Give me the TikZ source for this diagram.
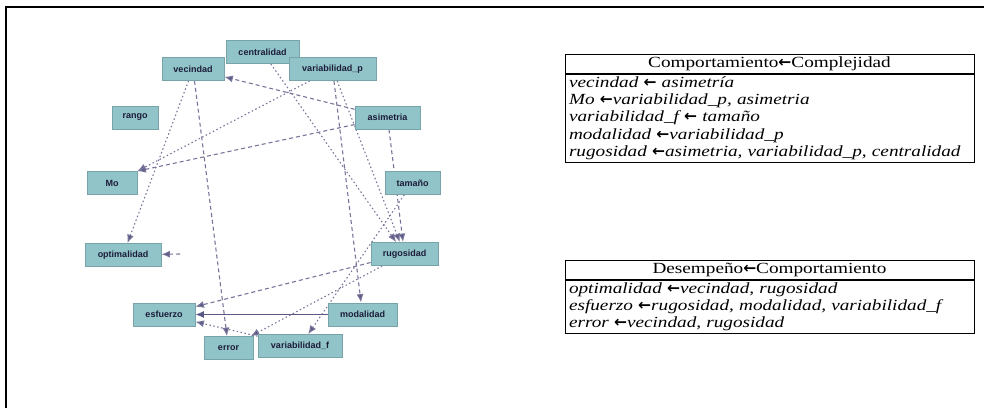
\documentclass[tikz,border=0pt]{standalone}
\usepackage{fontspec}
\setmainfont{Liberation Serif}
\newfontfamily\tabfont[FakeStretch=1.24]{Liberation Serif}
\newfontfamily\arrfont{DejaVu Sans}
\newfontfamily\boxfont{Liberation Sans}
\usetikzlibrary{arrows.meta,positioning,backgrounds}
\definecolor{Ink}{HTML}{000000}
\definecolor{BoxFill}{HTML}{90C4C8}
\definecolor{BoxEdge}{HTML}{78A3A8}
\definecolor{BoxText}{HTML}{1C1C3A}
\definecolor{Link}{HTML}{77759A}
\definecolor{Tip}{HTML}{5A5884}
\newcommand{\lar}{{\arrfont\bfseries\upshape ←}}
\tikzset{
  var/.style={rectangle,fill=BoxFill,draw=BoxEdge,line width=0.8pt,minimum height=23pt,inner sep=1pt,font=\boxfont\bfseries\fontsize{9}{10}\selectfont,text=BoxText},
  link/.style={draw=Link,line width=1.1pt,-{Latex[length=8.5pt,width=7pt,fill=Tip]}},
  dashlink/.style={link,dash pattern=on 4pt off 3pt},
  dotlink/.style={link,dash pattern=on 1.5pt off 2.5pt},
  solidlink/.style={link,draw=Tip,line width=1.2pt},
  tabhead/.style={draw=Ink,line width=0.8pt,minimum width=409pt,minimum height=19pt,inner sep=0pt,font=\tabfont\fontsize{15.5}{17.2}\selectfont},
  tabbody/.style={draw=Ink,line width=0.8pt,text width=401pt,align=left,inner xsep=4pt,inner ysep=2.5pt,font=\tabfont\itshape\fontsize{15.5}{17.2}\selectfont}
}
\begin{document}
\begin{tikzpicture}[x=1pt,y=-1pt]
  \useasboundingbox (0,0) rectangle (984,408);
  \draw[Ink,line width=1.3pt] (6,408) -- (6,7) -- (984,7);

  \node[var,minimum width=73pt] (cen) at (262.5,52) {centralidad};
  \node[var,minimum width=62pt] (vec) at (193,69) {vecindad};
  \node[var,minimum width=87pt] (varp) at (332.5,69) {variabilidad\_p};
  \node[var,minimum width=46pt] (ran) at (135,117.5) {rango};
  \node[var,minimum width=65pt] (asim) at (387.5,117.5) {asimetria};
  \node[var,minimum width=50pt] (mo) at (112,183) {Mo};
  \node[var,minimum width=55pt] (tam) at (412.5,183) {tamaño};
  \node[var,minimum width=76pt] (opt) at (123,255) {optimalidad};
  \node[var,minimum width=67pt] (rug) at (404.5,254) {rugosidad};
  \node[var,minimum width=62pt] (esf) at (164,314.5) {esfuerzo};
  \node[var,minimum width=69pt] (mod) at (362.5,314.5) {modalidad};
  \node[var,minimum width=49pt] (err) at (228.5,348) {error};
  \node[var,minimum width=84pt] (varf) at (300,346) {variabilidad\_f};
  \coordinate (optstub) at (180,254);

  \begin{scope}[on background layer]
    \draw[dashlink] (asim) -- (vec);
    \draw[dotlink] (varp) -- (mo.north east);
    \draw[dashlink] (asim) -- (mo.north east);
    \draw[dotlink] (tam) -- (varf);
    \draw[dashlink] (varp) -- (mod);
    \draw[dotlink] (varp) -- (rug);
    \draw[dotlink] (cen) -- (rug);
    \draw[dashlink] (asim) -- (rug);
    \draw[dotlink] (vec) -- (opt);
    \draw[dashlink] (vec) -- (err);
    \draw[dashlink] (optstub) -- (opt);
    \draw[solidlink] (mod) -- (esf);
    \draw[dashlink] (rug) -- (esf);
    \draw[dotlink] (rug) -- (err);
    \draw[dotlink] (varf) -- (esf);
  \end{scope}

  \node[tabhead] (comph) at (769.5,64) {Comportamiento\lar Complejidad};
  \node[tabbody,below=0pt of comph] (compb) {vecindad \lar\ asimetría\\
    Mo \lar variabilidad\_p, asimetria\\
    variabilidad\_f \lar\ tamaño\\
    modalidad \lar variabilidad\_p\\
    rugosidad \lar asimetria, variabilidad\_p, centralidad};

  \node[tabhead] (desh) at (769.5,270) {Desempeño\lar Comportamiento};
  \node[tabbody,below=0pt of desh] (desb) {optimalidad \lar vecindad, rugosidad\\
    esfuerzo \lar rugosidad, modalidad, variabilidad\_f\\
    error \lar vecindad, rugosidad};
\end{tikzpicture}
\end{document}
